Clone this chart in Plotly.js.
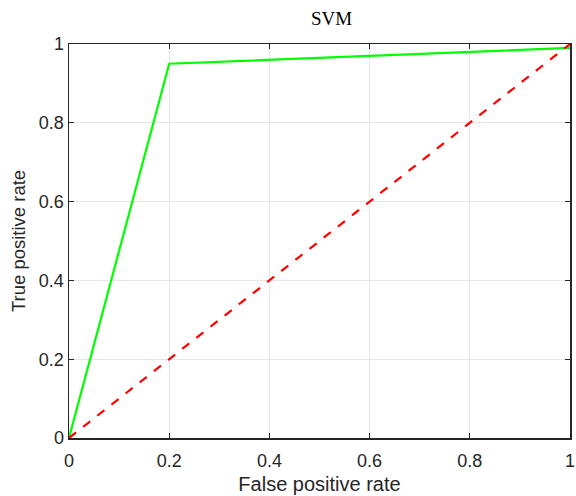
<!DOCTYPE html>
<html><head><meta charset="utf-8">
<script src="https://cdn.plot.ly/plotly-3.0.1.min.js"></script>
<style>html,body{margin:0;padding:0;background:#fff}</style>
</head><body>
<div id="chart" style="width:576px;height:496px"></div>
<script>
const rocX = [0, 0.2, 1];
const rocY = [0, 0.95, 0.99];
const diagX = [0, 1];
const diagY = [0, 1];
const tickVals = [0, 0.2, 0.4, 0.6, 0.8, 1];
const tickText = ['0', '0.2', '0.4', '0.6', '0.8', '1'];

const axisCommon = {
  range: [0, 1], tickvals: tickVals, ticktext: tickText,
  showline: true, linecolor: '#262626', linewidth: 1.5, mirror: 'allticks',
  ticks: 'inside', ticklen: 5, tickcolor: '#262626',
  showgrid: true, gridcolor: '#e6e6e6', gridwidth: 1,
  zeroline: false, ticklabeloverflow: 'allow',
  tickfont: {family: 'Liberation Sans, Arial', size: 18, color: '#262626'}
};

Plotly.newPlot('chart', [
  {x: rocX, y: rocY, mode: 'lines', line: {color: '#00ff00', width: 2.2}, hoverinfo: 'skip'},
  {x: diagX, y: diagY, mode: 'lines', line: {color: '#ff0000', width: 2.2, dash: 'dash'}, hoverinfo: 'skip'}
], {
  width: 576, height: 496,
  margin: {l: 69, r: 6, t: 44, b: 58},
  showlegend: false,
  paper_bgcolor: '#fff', plot_bgcolor: '#fff',
  title: {text: 'SVM', font: {family: 'Liberation Serif, Times New Roman', size: 19, color: '#000'}, x: 0.524, xanchor: 'center', xref: 'paper', y: 0.962, yanchor: 'middle'},
  xaxis: Object.assign({}, axisCommon, {ticklabelstandoff: 6, title: {text: 'False positive rate', font: {family: 'Liberation Sans, Arial', size: 20, color: '#262626'}, standoff: 7}}),
  yaxis: Object.assign({}, axisCommon, {title: {text: 'True positive rate', font: {family: 'Liberation Sans, Arial', size: 18.5, color: '#262626'}, standoff: 8}})
}, {staticPlot: true});
</script>
</body></html>
